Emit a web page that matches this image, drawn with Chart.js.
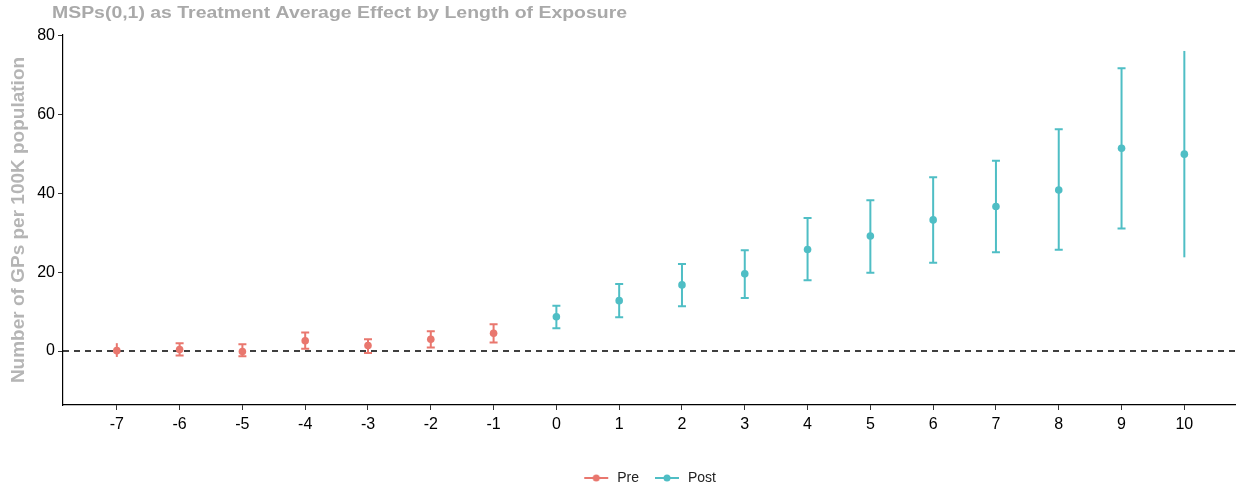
<!DOCTYPE html>
<html>
<head>
<meta charset="utf-8">
<script src="https://cdn.jsdelivr.net/npm/chart.js@4/dist/chart.umd.min.js"></script>
<style>
  html, body { margin: 0; padding: 0; background: #fff; }
  #wrap { width: 1239px; height: 486px; position: relative; }
</style>
</head>
<body>
<div id="wrap"><canvas id="myChart"></canvas></div>
<script>
const titleText = 'MSPs(0,1) as Treatment Average Effect by Length of Exposure';
const yTitle = 'Number of GPs per 100K population';

const xTicks = [-7, -6, -5, -4, -3, -2, -1, 0, 1, 2, 3, 4, 5, 6, 7, 8, 9, 10];
const yTicks = [0, 20, 40, 60, 80];

const preX = [-7, -6, -5, -4, -3, -2, -1];
const preY = [0.1, 0.4, -0.1, 2.6, 1.4, 3.0, 4.5];
const preLow = [-1.5, -1.1, -1.3, 0.6, -0.5, 0.9, 2.2];
const preHigh = [2.0, 2.0, 1.7, 4.7, 3.0, 5.0, 6.8];

const postX = [0, 1, 2, 3, 4, 5, 6, 7, 8, 9, 10];
const postY = [8.7, 12.8, 16.8, 19.6, 25.8, 29.2, 33.3, 36.7, 40.9, 51.5, 50.0];
const postLow = [5.8, 8.6, 11.4, 13.5, 18.0, 19.9, 22.4, 25.1, 25.7, 31.1, 23.8];
const postHigh = [11.5, 17.0, 22.1, 25.6, 33.8, 38.3, 44.1, 48.3, 56.3, 71.8, 76.2];

const PRE_COLOR = '#e9776e';
const POST_COLOR = '#4fbec5';
const FONT = '"Liberation Sans", Arial, sans-serif';

const makePoints = (xs, ys, lows, highs) => {
  return xs.map((x, i) => ({ x: x, y: ys[i], low: lows[i], high: highs[i] }));
}

// little "line + dot" icon for the legend
const legendIcon = (color) => {
  const c = document.createElement('canvas');
  c.width = 26;
  c.height = 10;
  const g = c.getContext('2d');
  g.strokeStyle = color;
  g.lineWidth = 2;
  g.beginPath();
  g.moveTo(1, 5);
  g.lineTo(25, 5);
  g.stroke();
  g.fillStyle = color;
  g.beginPath();
  g.arc(13, 5, 3.5, 0, Math.PI * 2);
  g.fill();
  return c;
}

const errorBars = {
  id: 'errorBars',
  beforeDatasetsDraw(chart) {
    const ctx = chart.ctx;
    const xs = chart.scales.x;
    const ys = chart.scales.y;
    ctx.save();
    chart.data.datasets.forEach((ds) => {
      ctx.strokeStyle = ds.borderColor;
      ctx.lineWidth = 2;
      ds.data.forEach((p) => {
        const px = xs.getPixelForValue(p.x);
        const top = ys.getPixelForValue(p.high);
        const bottom = ys.getPixelForValue(p.low);
        ctx.beginPath();
        ctx.moveTo(px, top);
        ctx.lineTo(px, bottom);
        const capped = p.x !== xTicks[0] && p.x !== xTicks[xTicks.length - 1];
        if (capped) {
          ctx.moveTo(px - 4, top);
          ctx.lineTo(px + 4, top);
          ctx.moveTo(px - 4, bottom);
          ctx.lineTo(px + 4, bottom);
        }
        ctx.stroke();
      });
    });
    ctx.restore();
  }
};

const zeroLine = {
  id: 'zeroLine',
  beforeDatasetsDraw(chart) {
    const ctx = chart.ctx;
    const area = chart.chartArea;
    const y = chart.scales.y.getPixelForValue(0);
    ctx.save();
    ctx.strokeStyle = '#000';
    ctx.lineWidth = 1.5;
    ctx.setLineDash([6, 5]);
    ctx.beginPath();
    ctx.moveTo(area.left, y);
    ctx.lineTo(area.right, y);
    ctx.stroke();
    ctx.restore();
  }
};

// the title in the picture is a bit stretched, so fit it to its width
const topTitle = {
  id: 'topTitle',
  afterDraw(chart) {
    const ctx = chart.ctx;
    ctx.save();
    ctx.font = 'bold 16px ' + FONT;
    ctx.fillStyle = '#a9a9a9';
    ctx.textBaseline = 'middle';
    const w = ctx.measureText(titleText).width;
    ctx.translate(52, 14);
    ctx.scale(575 / w, 1);
    ctx.fillText(titleText, 0, 0);
    ctx.restore();
  }
};

const ctx = document.getElementById('myChart');
const chart = new Chart(ctx, {
  type: 'scatter',
  data: {
    datasets: [
      {
        label: 'Pre',
        data: makePoints(preX, preY, preLow, preHigh),
        backgroundColor: PRE_COLOR,
        borderColor: PRE_COLOR,
        pointRadius: 3.8,
        pointHoverRadius: 3.8,
        borderWidth: 0
      },
      {
        label: 'Post',
        data: makePoints(postX, postY, postLow, postHigh),
        backgroundColor: POST_COLOR,
        borderColor: POST_COLOR,
        pointRadius: 3.8,
        pointHoverRadius: 3.8,
        borderWidth: 0
      },
    ]
  },
  options: {
    responsive: true,
    maintainAspectRatio: false,
    animation: false,
    layout: {
      padding: { top: 35, right: 0, left: 0, bottom: -9 }
    },
    scales: {
      x: {
        type: 'linear',
        min: -7.857,
        max: 10.81,
        afterBuildTicks: (scale) => {
          scale.ticks = xTicks.map((v) => ({ value: v }));
        },
        afterFit: (scale) => {
          scale.height = 52;
        },
        ticks: {
          color: '#000',
          font: { family: FONT, size: 16 },
          padding: 5,
          maxRotation: 0,
          autoSkip: false
        },
        grid: {
          drawOnChartArea: false,
          drawTicks: true,
          tickLength: 5,
          color: '#333'
        },
        border: { display: true, color: '#000', width: 1.2 }
      },
      y: {
        type: 'linear',
        min: -13.7,
        max: 80.25,
        afterBuildTicks: (scale) => {
          scale.ticks = yTicks.map((v) => ({ value: v }));
        },
        afterFit: (scale) => {
          scale.width = 63;
        },
        ticks: {
          color: '#000',
          font: { family: FONT, size: 16 },
          padding: 3
        },
        grid: {
          drawOnChartArea: false,
          drawTicks: true,
          tickLength: 5,
          color: '#333'
        },
        border: { display: true, color: '#000', width: 1.2 },
        title: {
          display: true,
          text: yTitle,
          color: '#b5b5b5',
          font: { family: FONT, size: 19, weight: 'bold' },
          padding: { top: 7, bottom: 0 }
        }
      }
    },
    plugins: {
      title: { display: false },
      tooltip: { enabled: false },
      legend: {
        position: 'bottom',
        fullSize: false,
        labels: {
          color: '#222',
          font: { family: FONT, size: 14 },
          usePointStyle: true,
          pointStyleWidth: 28,
          padding: 14,
          generateLabels: (chart) => chart.data.datasets.map((ds, i) => ({
            text: ds.label,
            fillStyle: ds.backgroundColor,
            strokeStyle: ds.borderColor,
            pointStyle: legendIcon(ds.borderColor),
            fontColor: '#222',
            datasetIndex: i,
            hidden: false
          }))
        }
      }
    }
  },
  plugins: [zeroLine, errorBars, topTitle]
});
</script>
</body>
</html>
